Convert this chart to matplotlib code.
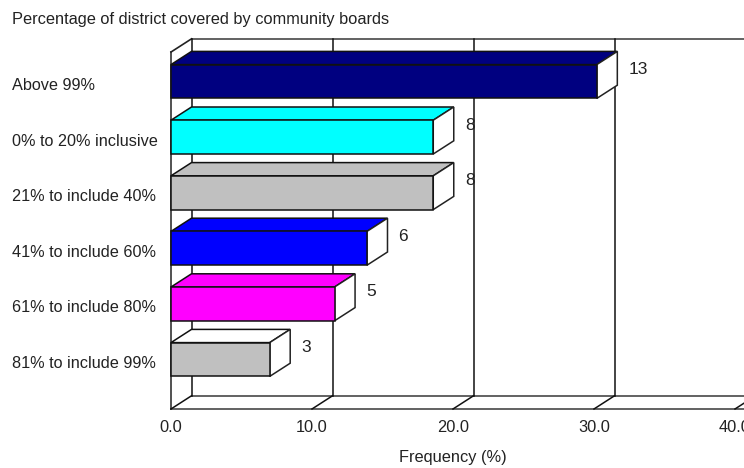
#!/usr/bin/python3
import matplotlib
matplotlib.use('Agg')
import matplotlib.pyplot as plt
from matplotlib.patches import Polygon

categories = ['Above 99%', '0% to 20% inclusive', '21% to include 40%',
              '41% to include 60%', '61% to include 80%', '81% to include 99%']
freq = [30.2, 18.6, 18.6, 13.9, 11.6, 7.0]
counts = [13, 8, 8, 6, 5, 3]
front_colors = ['#000080', '#00ffff', '#c0c0c0', '#0000ff', '#ff00ff', '#c0c0c0']
top_colors = ['#000080', '#00ffff', '#c0c0c0', '#0000ff', '#ff00ff', '#ffffff']
ticks = [0, 10, 20, 30, 40]

W, H = 744, 468
SX = 14.1   # px per percent
SY = 55.6   # px per category
X0 = 171
Y0 = 81.5
DX = 20.5 / SX  # 3d depth
DY = 13.2 / SY
HALF = 16.9 / SY
TOP = -0.53
BOTTOM = 5.89
TXT = '#222222'

plt.rcParams['font.family'] = ['Liberation Sans', 'DejaVu Sans']

fig = plt.figure(figsize=(W / 100, H / 100), dpi=100)
ax = fig.add_axes([0, 0, 1, 1])
ax.set_xlim(-X0 / SX, (W - X0) / SX)
ax.set_ylim((H - Y0) / SY, -Y0 / SY)
ax.axis('off')

xmax = (W - X0) / SX
# back wall and floor
ax.plot([DX, xmax], [TOP - DY, TOP - DY], color='#555555', lw=1.3, zorder=1)
ax.plot([DX, xmax], [BOTTOM - DY, BOTTOM - DY], color='#555555', lw=1.3, zorder=1)
ax.plot([0, xmax], [BOTTOM, BOTTOM], color='#555555', lw=1.3, zorder=1)
ax.plot([0, 0], [TOP, BOTTOM], color='#333333', lw=1.2, zorder=1)
ax.plot([0, DX], [TOP, TOP - DY], color='#222222', lw=1.2, zorder=1)
for t in ticks:
    ax.plot([t, t + DX], [BOTTOM, BOTTOM - DY], color='#111111', lw=1.1, zorder=1)
    if t == 40:
        continue
    ax.plot([t + DX, t + DX], [TOP - DY, BOTTOM - DY], color='#111111', lw=1.1, zorder=1)

for i, v in enumerate(freq):
    t, b = i - HALF, i + HALF
    top = Polygon([(0, t), (DX, t - DY), (v + DX, t - DY), (v, t)],
                  fc=top_colors[i], ec='#111111', lw=1.1, zorder=3)
    side = Polygon([(v, t), (v + DX, t - DY), (v + DX, b - DY), (v, b)],
                   fc='white', ec='#222222', lw=1.1, zorder=3)
    front = Polygon([(0, t), (v, t), (v, b), (0, b)],
                    fc=front_colors[i], ec='#111111', lw=1.1, zorder=4)
    ax.add_patch(top)
    ax.add_patch(side)
    ax.add_patch(front)
    ax.text(v + DX + 11 / SX, i - 12 / SY, str(counts[i]), ha='left', va='center',
            fontsize=12.5, color=TXT, zorder=5)
    ax.text(-159 / SX, i + 4 / SY, categories[i], ha='left', va='center',
            fontsize=11.7, color=TXT, zorder=5)

for t in ticks:
    ax.text(t, 6.23, '%.1f' % t, ha='center', va='center', fontsize=11.8, color=TXT)

ax.text(20.0, 6.77, 'Frequency (%)', ha='center', va='center', fontsize=11.8, color=TXT)
ax.text(-159 / SX, -1.11, 'Percentage of district covered by community boards',
        ha='left', va='center', fontsize=11.8, color=TXT)

fig.savefig('out.png', dpi=100)
plt.close(fig)
